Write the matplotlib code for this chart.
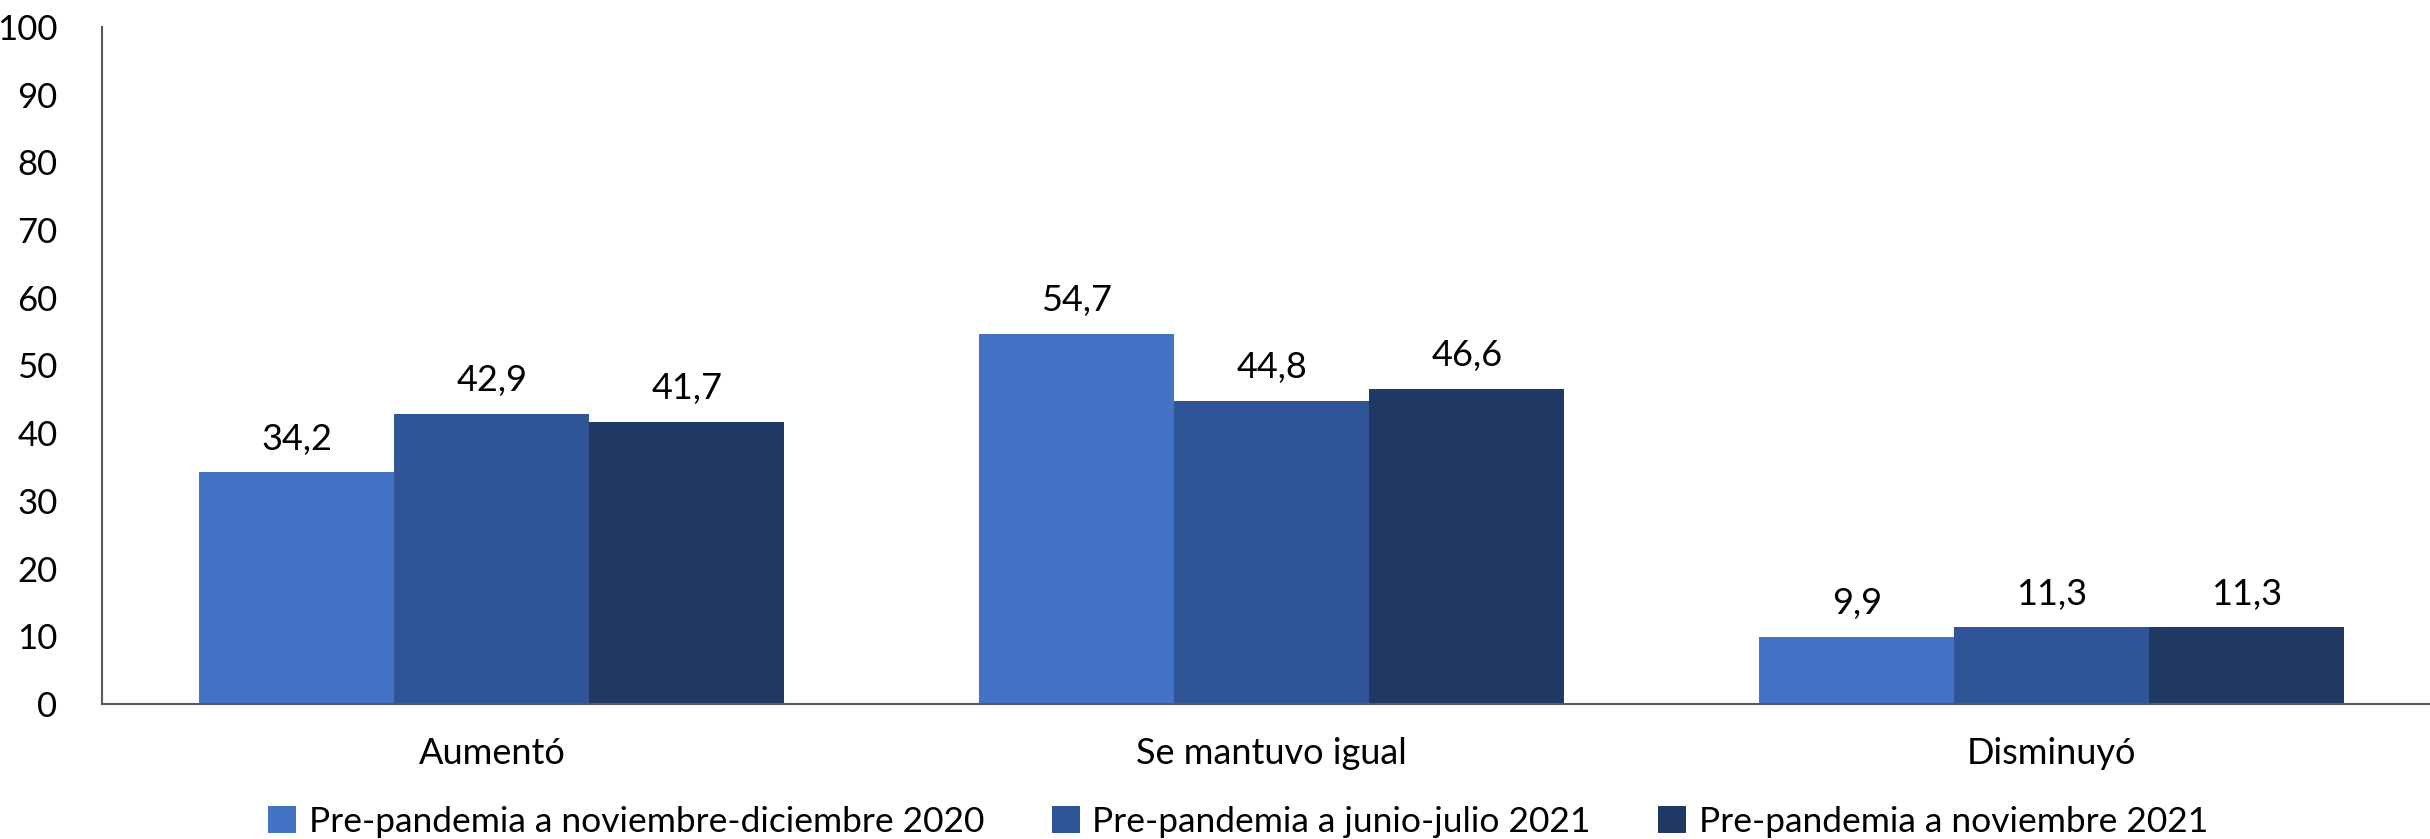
import numpy as np
import matplotlib.pyplot as plt

plt.rcParams['font.family'] = ['Lato', 'DejaVu Sans']

# Data
categorias = ['Aumentó', 'Se mantuvo igual', 'Disminuyó']
series = ['Pre-pandemia a noviembre-diciembre 2020',
          'Pre-pandemia a junio-julio 2021',
          'Pre-pandemia a noviembre 2021']
nov_dic_2020 = [34.2, 54.7, 9.9]
jun_jul_2021 = [42.9, 44.8, 11.3]
nov_2021 = [41.7, 46.6, 11.3]
colores = ['#4472C4', '#2F5597', '#203864']

fig = plt.figure(figsize=(24.3, 8.39), dpi=100)
ax = fig.add_axes([102 / 2430, 1 - 704 / 839, (2430 - 102) / 2430, (704 - 27) / 839])

x = np.arange(len(categorias))
w = 0.25
valores = [nov_dic_2020, jun_jul_2021, nov_2021]
for i, (vals, nombre, c) in enumerate(zip(valores, series, colores)):
    bars = ax.bar(x + (i - 1) * w, vals, w, color=c, label=nombre)
    for b, v in zip(bars, vals):
        ax.text(b.get_x() + b.get_width() / 2, v + 4.9, f'{v:.1f}'.replace('.', ','),
                ha='center', va='center', fontsize=26)

ax.set_xlim(-0.5, 2.485)
ax.set_ylim(0, 100)
ax.set_yticks(range(0, 101, 10))
ax.set_xticks(x)
ax.set_xticklabels(categorias, fontsize=26)
ax.tick_params(axis='y', length=0, pad=32, labelsize=25)
ax.tick_params(axis='x', length=0, pad=24)
for s in ['top', 'right']:
    ax.spines[s].set_visible(False)
for s in ['left', 'bottom']:
    ax.spines[s].set_color('#595959')
    ax.spines[s].set_linewidth(1.5)

ax.legend(loc='center', bbox_to_anchor=(1238 / 2430, 1 - 822 / 839), bbox_transform=fig.transFigure,
          ncol=3, frameon=False, fontsize=25.5, handlelength=0.8, handleheight=0.8,
          handletextpad=0.35, columnspacing=1.9)

fig.savefig('out.png', dpi=100)
